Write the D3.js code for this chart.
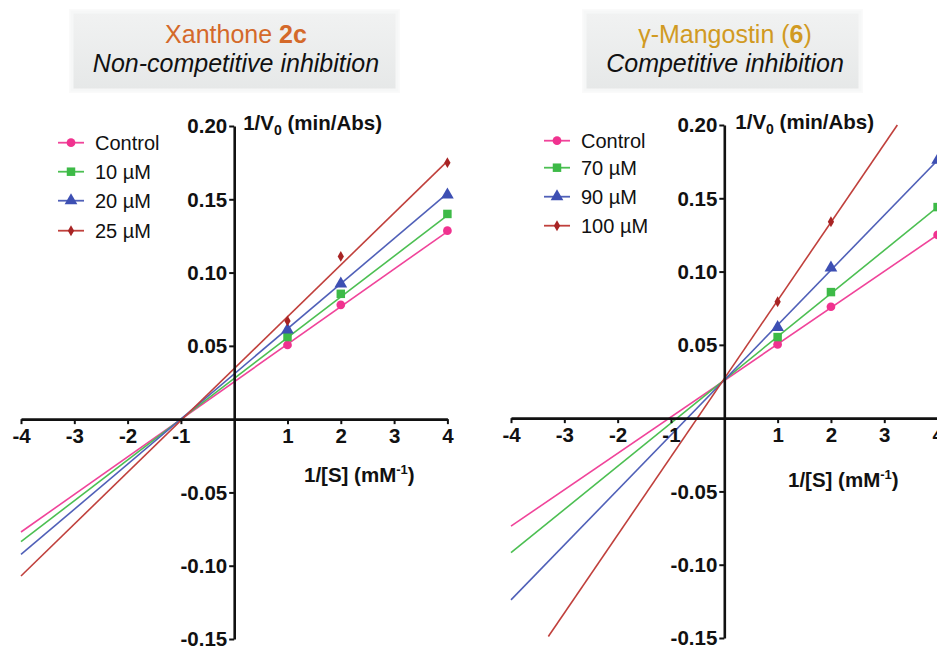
<!DOCTYPE html>
<html>
<head>
<meta charset="utf-8">
<script src="https://cdn.jsdelivr.net/npm/d3@7"></script>
<style>
  html, body { margin: 0; padding: 0; background: #ffffff; }
  svg { display: block; font-family: "Liberation Sans", Arial, sans-serif; }
</style>
</head>
<body>
<svg id="chart" width="937" height="647"></svg>
<script>
// ---------------- DATA ----------------
const xPoints = [1, 2, 4];
const xTicks = [-4, -3, -2, -1, 1, 2, 3, 4];
const yTicks = [0.20, 0.15, 0.10, 0.05, -0.05, -0.10, -0.15];
const yTickLabels = ["0.20", "0.15", "0.10", "0.05", "-0.05", "-0.10", "-0.15"];

const leftTitle = "Xanthone ";
const leftTitleBold = "2c";
const leftSubtitle = "Non-competitive inhibition";
const leftSeries = ["Control", "10 \u00b5M", "20 \u00b5M", "25 \u00b5M"];
const leftValues = [
  [0.0506, 0.0780, 0.1286],
  [0.0560, 0.0855, 0.1400],
  [0.0610, 0.0923, 0.1530],
  [0.0670, 0.1110, 0.1750]
];
// fitted line end points [x1, y1, x2, y2]
const leftFits = [
  [-4, -0.0770, 4, 0.1280],
  [-4, -0.0835, 4, 0.1390],
  [-4, -0.0923, 4, 0.1540],
  [-4, -0.1070, 4, 0.1760]
];

const rightTitle = "\u03b3-Mangostin (";
const rightTitleBold = "6";
const rightTitleEnd = ")";
const rightSubtitle = "Competitive inhibition";
const rightSeries = ["Control", "70 \u00b5M", "90 \u00b5M", "100 \u00b5M"];
const rightValues = [
  [0.0503, 0.0760, 0.1250],
  [0.0553, 0.0860, 0.1440],
  [0.0620, 0.1025, 0.1760],
  [0.0794, 0.1340, null]
];
const rightFits = [
  [-4, -0.0737, 4, 0.1250],
  [-4, -0.0918, 4, 0.1440],
  [-4, -0.1240, 4, 0.1760],
  [-3.30, -0.1490, 3.245, 0.2000]
];

const seriesColors = ["#f0328f", "#3dba47", "#3d4fb3", "#a82424"];
const lineColors = ["#f0449a", "#4cbf52", "#5060b8", "#c0403c"];
const seriesSymbols = [d3.symbolCircle, d3.symbolSquare, d3.symbolTriangle, d3.symbolDiamond];
const symbolSizes = [60, 72, 70, 34];

// ---------------- DRAW ----------------
const svg = d3.select("#chart");
const defs = svg.append("defs");
const grad = defs.append("linearGradient").attr("id", "boxGrad")
  .attr("x1", 0).attr("y1", 0).attr("x2", 0).attr("y2", 1);
grad.append("stop").attr("offset", "0%").attr("stop-color", "#f1f2f2");
grad.append("stop").attr("offset", "100%").attr("stop-color", "#e6e8e8");

function drawTitleBox(g, box, cx, line1Parts, subtitle, color) {
  g.append("rect")
    .attr("x", box[0] - 3).attr("y", box[1] - 3).attr("width", box[2] + 6).attr("height", box[3] + 6)
    .attr("fill", "#fafafa");
  g.append("rect")
    .attr("x", box[0]).attr("y", box[1]).attr("width", box[2]).attr("height", box[3])
    .attr("fill", "url(#boxGrad)")
    .attr("stroke", "#f6f7f7").attr("stroke-width", 3);
  const t = g.append("text")
    .attr("x", cx).attr("y", 43)
    .attr("text-anchor", "middle")
    .attr("font-size", 25)
    .attr("fill", color);
  line1Parts.forEach(p => {
    t.append("tspan").attr("font-weight", p.bold ? "bold" : "normal").text(p.text);
  });
  g.append("text")
    .attr("x", cx).attr("y", 72)
    .attr("text-anchor", "middle")
    .attr("font-size", 25)
    .attr("font-style", "italic")
    .attr("fill", "#111")
    .text(subtitle);
}

function drawPanel(cfg) {
  const g = svg.append("g");
  const x = d3.scaleLinear().domain([-4, 4]).range(cfg.xRange);
  const y = d3.scaleLinear().domain([-0.15, 0.20]).range(cfg.yRange);
  const x0 = x(0), y0 = y(0);

  // fitted lines
  cfg.fits.forEach((f, i) => {
    g.append("line")
      .attr("x1", x(f[0])).attr("y1", y(f[1]))
      .attr("x2", x(f[2])).attr("y2", y(f[3]))
      .attr("stroke", lineColors[i]).attr("stroke-width", 1.6);
  });

  // x axis
  const xAxis = d3.axisBottom(x).tickValues(xTicks).tickSize(5).tickSizeOuter(0)
    .tickFormat(d3.format("d"));
  const gx = g.append("g").attr("transform", `translate(0,${y0})`).call(xAxis);
  gx.select(".domain").attr("stroke", "#111").attr("stroke-width", 2.6);
  gx.selectAll(".tick line").attr("stroke", "#111").attr("stroke-width", 2);
  gx.selectAll(".tick text")
    .attr("font-size", 20.5).attr("font-weight", "bold").attr("fill", "#111")
    .attr("font-family", "Liberation Sans, Arial, sans-serif")
    .attr("y", 9).attr("dy", "0.71em")
    .text(d => d < 0 ? "-" + Math.abs(d) : d);

  // y axis
  const yAxis = d3.axisLeft(y).tickValues(yTicks).tickSize(5).tickSizeOuter(0)
    .tickFormat((d, i) => yTickLabels[i]);
  const gy = g.append("g").attr("transform", `translate(${x0},0)`).call(yAxis);
  gy.select(".domain").attr("stroke", "#111").attr("stroke-width", 2.6);
  gy.selectAll(".tick line").attr("stroke", "#111").attr("stroke-width", 2);
  gy.selectAll(".tick text")
    .attr("font-size", 20.5).attr("font-weight", "bold").attr("fill", "#111")
    .attr("font-family", "Liberation Sans, Arial, sans-serif")
    .attr("x", -7).attr("dy", "0.34em");

  // axis titles
  const yt = g.append("text")
    .attr("x", x0 + cfg.yTitleDx).attr("y", y(0.20) + 4)
    .attr("font-size", 20.5).attr("font-weight", "bold").attr("fill", "#111");
  yt.append("tspan").text("1/V");
  yt.append("tspan").attr("font-size", 14).attr("dy", 5).text("0");
  yt.append("tspan").attr("dy", -5).text(" (min/Abs)");

  const xt = g.append("text")
    .attr("x", cfg.xTitlePos[0]).attr("y", cfg.xTitlePos[1])
    .attr("font-size", 20.5).attr("font-weight", "bold").attr("fill", "#111");
  xt.append("tspan").text("1/[S] (mM");
  xt.append("tspan").attr("font-size", 13).attr("dy", -8).text("-1");
  xt.append("tspan").attr("dy", 8).text(")");

  // points
  cfg.values.forEach((vals, i) => {
    vals.forEach((v, j) => {
      if (v === null) return;
      g.append("path")
        .attr("d", d3.symbol().type(seriesSymbols[i]).size(symbolSizes[i])())
        .attr("transform", `translate(${x(xPoints[j])},${y(v)})`)
        .attr("fill", seriesColors[i]);
    });
  });

  // legend
  cfg.series.forEach((name, i) => {
    const ly = cfg.legendY[i];
    const lg = g.append("g").attr("transform", `translate(${cfg.legendX},${ly})`);
    lg.append("line").attr("x1", -13).attr("x2", 13).attr("y1", 0).attr("y2", 0)
      .attr("stroke", lineColors[i]).attr("stroke-width", 1.8);
    lg.append("path")
      .attr("d", d3.symbol().type(seriesSymbols[i]).size(symbolSizes[i])())
      .attr("fill", seriesColors[i]);
    lg.append("text").attr("x", 24).attr("y", 0).attr("dy", "0.35em")
      .attr("font-size", 20).attr("fill", "#111").text(name);
  });
}

drawTitleBox(svg.append("g"), [72, 12, 325, 78], 236,
  [{text: leftTitle, bold: false}, {text: leftTitleBold, bold: true}],
  leftSubtitle, "#d4692a");
drawTitleBox(svg.append("g"), [585, 12, 275, 78], 725,
  [{text: rightTitle, bold: false}, {text: rightTitleBold, bold: true}, {text: rightTitleEnd, bold: false}],
  rightSubtitle, "#d19a22");

drawPanel({
  xRange: [21, 447.4], yRange: [639, 126],
  fits: leftFits, values: leftValues, series: leftSeries,
  legendX: 71, legendY: [142.7, 171.7, 200.7, 230.7],
  yTitleDx: 9, xTitlePos: [304, 482]
});
drawPanel({
  xRange: [511, 937.6], yRange: [638, 125],
  fits: rightFits, values: rightValues, series: rightSeries,
  legendX: 557, legendY: [140.7, 167.7, 196.7, 225.7],
  yTitleDx: 11, xTitlePos: [788, 487]
});
</script>
</body>
</html>
